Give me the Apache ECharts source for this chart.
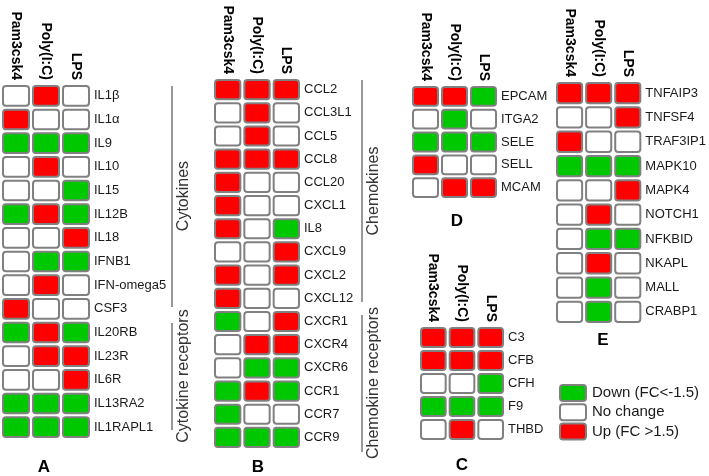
<!DOCTYPE html>
<html><head><meta charset="utf-8">
<script src="https://cdn.jsdelivr.net/npm/echarts@6/dist/echarts.min.js"></script>
<style>html,body{margin:0;padding:0;background:#fff}#c{width:709px;height:476px}</style>
</head><body><div id="c"></div>
<script>
// Treatments (columns)
const treatments = ['Pam3csk4', 'Poly(I:C)', 'LPS'];
// Calls: -1 = Down (FC<-1.5), 0 = No change, 1 = Up (FC >1.5); order Pam3csk4, Poly(I:C), LPS
const genesA = ['IL1β','IL1α','IL9','IL10','IL15','IL12B','IL18','IFNB1','IFN-omega5','CSF3','IL20RB','IL23R','IL6R','IL13RA2','IL1RAPL1'];
const callsA = [[0,1,0],[1,0,0],[-1,-1,-1],[0,1,0],[0,0,-1],[-1,1,-1],[0,0,1],[0,-1,-1],[0,1,0],[1,0,0],[-1,1,-1],[0,1,1],[0,0,1],[-1,-1,-1],[-1,-1,-1]];
const genesB = ['CCL2','CCL3L1','CCL5','CCL8','CCL20','CXCL1','IL8','CXCL9','CXCL2','CXCL12','CXCR1','CXCR4','CXCR6','CCR1','CCR7','CCR9'];
const callsB = [[1,1,1],[0,1,0],[0,1,0],[1,1,1],[1,0,0],[1,0,0],[1,0,-1],[0,0,1],[1,0,1],[1,0,0],[-1,0,1],[0,1,1],[0,-1,-1],[-1,1,-1],[-1,0,0],[-1,-1,-1]];
const genesC = ['C3','CFB','CFH','F9','THBD'];
const callsC = [[1,1,1],[1,1,1],[0,0,-1],[-1,-1,-1],[0,1,0]];
const genesD = ['EPCAM','ITGA2','SELE','SELL','MCAM'];
const callsD = [[1,1,-1],[0,-1,0],[-1,-1,-1],[1,0,0],[0,1,1]];
const genesE = ['TNFAIP3','TNFSF4','TRAF3IP1','MAPK10','MAPK4','NOTCH1','NFKBID','NKAPL','MALL','CRABP1'];
const callsE = [[1,1,1],[0,0,1],[1,0,0],[-1,-1,-1],[0,0,1],[0,1,0],[0,-1,-1],[0,1,0],[0,-1,0],[0,-1,0]];
const legendLabels = ['Down (FC<-1.5)', 'No change', 'Up (FC >1.5)'];

const GREEN = '#00c800', RED = '#ff0000', WHITE = '#ffffff', BORDER = '#808080';
const FONT = "'Liberation Sans', Arial, sans-serif";
function colorOf(v) { return v < 0 ? GREEN : (v > 0 ? RED : WHITE); }

const panels = [
  {genes: genesA, calls: callsA, grid: {left: 1, top: 84, width: 90, height: 355}},
  {genes: genesB, calls: callsB, grid: {left: 213, top: 78, width: 88, height: 371}},
  {genes: genesC, calls: callsC, grid: {left: 419, top: 326, width: 86, height: 115}},
  {genes: genesD, calls: callsD, grid: {left: 411, top: 85, width: 87, height: 114}},
  {genes: genesE, calls: callsE, grid: {left: 555, top: 81, width: 89, height: 243}}
];

function renderCell(params, api) {
  const c = api.coord([api.value(0), api.value(1)]);
  const s = api.size([1, 1]);
  const w = s[0] - 4, h = s[1] - 4;
  return {
    type: 'rect',
    shape: {x: c[0] - w / 2, y: c[1] - h / 2, width: w, height: h, r: 3},
    style: {fill: colorOf(api.value(2)), stroke: BORDER, lineWidth: 2}
  };
}

const grid = [], xAxis = [], yAxis = [], series = [];
panels.forEach((p, k) => {
  grid.push(Object.assign({containLabel: false}, p.grid));
  xAxis.push({
    type: 'category', gridIndex: k, position: 'top', data: treatments,
    axisLine: {show: false}, axisTick: {show: false}, splitLine: {show: false},
    axisLabel: {rotate: 90, margin: 4, fontFamily: FONT, fontWeight: 'bold', fontSize: 14, color: '#000', interval: 0}
  });
  yAxis.push({
    type: 'category', gridIndex: k, position: 'right', inverse: true, data: p.genes,
    axisLine: {show: false}, axisTick: {show: false}, splitLine: {show: false},
    axisLabel: {margin: 3, fontFamily: FONT, fontSize: 13, color: '#1a1a1a', interval: 0}
  });
  const data = [];
  p.calls.forEach((row, i) => row.forEach((v, j) => data.push([j, i, v])));
  series.push({
    type: 'custom', xAxisIndex: k, yAxisIndex: k, data: data,
    renderItem: renderCell, silent: true, animation: false
  });
});

const gray = '#777';
function vline(x, y1, y2) {
  return {type: 'line', shape: {x1: x, y1: y1, x2: x, y2: y2}, style: {stroke: gray, lineWidth: 1.5}};
}
function vtext(x, y, t) {
  return {type: 'text', x: x, y: y, rotation: Math.PI / 2,
    style: {text: t, fontFamily: FONT, fontSize: 16, fill: '#333', align: 'center', verticalAlign: 'middle'}};
}
function letter(x, y, t) {
  return {type: 'text', x: x, y: y,
    style: {text: t, fontFamily: FONT, fontSize: 17, fontWeight: 'bold', fill: '#000', align: 'center', verticalAlign: 'middle'}};
}
const legendColors = [GREEN, WHITE, RED];
const graphic = [
  vline(172, 86, 307), vtext(184, 196, 'Cytokines'),
  vline(172, 323, 430), vtext(184, 376, 'Cytokine receptors'),
  vline(362, 80, 302), vtext(374, 191, 'Chemokines'),
  vline(362, 315, 452), vtext(374, 383, 'Chemokine receptors'),
  letter(44, 467, 'A'), letter(258, 467, 'B'), letter(462, 465, 'C'),
  letter(457, 221, 'D'), letter(603, 340, 'E')
];
legendLabels.forEach((t, i) => {
  const y = 385 + i * 19.3;
  graphic.push({type: 'rect', shape: {x: 560, y: y, width: 26, height: 16, r: 3},
    style: {fill: legendColors[i], stroke: BORDER, lineWidth: 2}});
  graphic.push({type: 'text', x: 592, y: y + 8,
    style: {text: t, fontFamily: FONT, fontSize: 15, fill: '#1a1a1a', verticalAlign: 'middle'}});
});

const chart = echarts.init(document.getElementById('c'), null, {renderer: 'canvas'});
chart.setOption({animation: false, backgroundColor: '#fff', grid, xAxis, yAxis, series, graphic});
</script>
</body></html>
